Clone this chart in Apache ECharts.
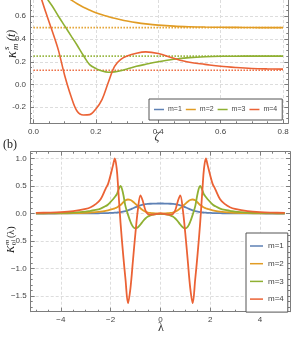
<!DOCTYPE html>
<html><head><meta charset="utf-8">
<script src="https://cdn.jsdelivr.net/npm/echarts@6/dist/echarts.min.js"></script>
<style>html,body{margin:0;padding:0;background:#fff}#c{width:299px;height:339px}</style>
</head><body><div id="c"></div>
<script>
const seriesNames = ['m=1','m=2','m=3','m=4'];
const colors = ['#5E81B5','#E19C24','#8FB032','#EB6235'];

// ---- panel (a) ----
const zeta = [0,0.02,0.04,0.06,0.08,0.1,0.12,0.14,0.16,0.18,0.2,0.22,0.24,0.26,0.28,0.3,0.33,0.36,0.4,0.45,0.5,0.55,0.6,0.65,0.7,0.75,0.8];
const kA_m1 = [1,1,1,1,1,1,1,1,1,1,1,1,1,1,1,1,1,1,1,1,1,1,1,1,1,1,1];
const kA_m2 = [1.0,0.94,0.89,0.85,0.81,0.78,0.745,0.71,0.68,0.655,0.632,0.613,0.597,0.582,0.569,0.558,0.544,0.533,0.522,0.513,0.508,0.505,0.503,0.502,0.501,0.5,0.5];
const kA_m3 = [0.96,0.87,0.77,0.69,0.6,0.515,0.43,0.345,0.255,0.175,0.14,0.118,0.108,0.111,0.122,0.137,0.16,0.178,0.2,0.222,0.236,0.244,0.248,0.249,0.25,0.25,0.25];
const kA_m4 = [0.97,0.8,0.63,0.47,0.3,0.08,-0.1,-0.235,-0.268,-0.265,-0.215,-0.13,0.02,0.16,0.22,0.25,0.275,0.287,0.272,0.23,0.195,0.177,0.16,0.149,0.141,0.137,0.135];
const limitsA = [1, 0.5, 0.25, 0.125];
const limitRange = [0, 0.8];
const zetaTicks = [0,0.2,0.4,0.6,0.8];
const zetaMinor = [0.05,0.1,0.15,0.25,0.3,0.35,0.45,0.5,0.55,0.65,0.7,0.75];
const kATicks = [-0.2,0,0.2,0.4,0.6];
const kAMinor = [-0.3,-0.25,-0.15,-0.1,-0.05,0.05,0.1,0.15,0.25,0.3,0.35,0.45,0.5,0.55,0.65,0.7,0.75];

// ---- panel (b) ----
const lambda = [-5,-4.5,-4,-3.5,-3,-2.8,-2.6,-2.4,-2.2,-2.1,-2,-1.9,-1.83,-1.75,-1.7,-1.6,-1.5,-1.4,-1.3,-1.2,-1.1,-1,-0.9,-0.8,-0.7,-0.6,-0.5,-0.4,-0.3,-0.2,-0.1,0,0.1,0.2,0.3,0.4,0.5,0.6,0.7,0.8,0.9,1,1.1,1.2,1.3,1.4,1.5,1.6,1.7,1.75,1.83,1.9,2,2.1,2.2,2.4,2.6,2.8,3,3.5,4,4.5,5];
const kB_m1 = [0,0,0.001,0.001,0.002,0.003,0.004,0.006,0.008,0.009,0.011,0.013,0.015,0.018,0.02,0.026,0.034,0.045,0.058,0.075,0.095,0.115,0.135,0.15,0.16,0.17,0.175,0.178,0.18,0.181,0.182,
  0.182,
  0.182,0.181,0.18,0.178,0.175,0.17,0.16,0.15,0.135,0.115,0.095,0.075,0.058,0.045,0.034,0.026,0.02,0.018,0.015,0.013,0.011,0.009,0.008,0.006,0.004,0.003,0.002,0.001,0.001,0,0];
const kB_m2 = [0.002,0.003,0.004,0.007,0.013,0.018,0.024,0.033,0.048,0.058,0.07,0.085,0.095,0.11,0.125,0.155,0.2,0.24,0.255,0.245,0.215,0.175,0.135,0.095,0.06,0.035,0.018,0.01,0.005,0.002,0.0005,
  0,
  0.0005,0.002,0.005,0.01,0.018,0.035,0.06,0.095,0.135,0.175,0.215,0.245,0.255,0.24,0.2,0.155,0.125,0.11,0.095,0.085,0.07,0.058,0.048,0.033,0.024,0.018,0.013,0.007,0.004,0.003,0.002];
const kB_m3 = [0.004,0.006,0.01,0.018,0.035,0.05,0.065,0.09,0.135,0.165,0.21,0.26,0.3,0.35,0.41,0.5,0.37,0.13,-0.02,-0.15,-0.24,-0.27,-0.25,-0.2,-0.14,-0.09,-0.055,-0.035,-0.02,-0.015,-0.01,
  -0.01,
  -0.01,-0.015,-0.02,-0.035,-0.055,-0.09,-0.14,-0.2,-0.25,-0.27,-0.24,-0.15,-0.02,0.13,0.37,0.5,0.41,0.35,0.3,0.26,0.21,0.165,0.135,0.09,0.065,0.05,0.035,0.018,0.01,0.006,0.004];
const kB_m4 = [0.011,0.016,0.025,0.045,0.085,0.115,0.17,0.26,0.45,0.54,0.7,0.88,1.0,0.8,0.5,-0.17,-0.72,-1.2,-1.63,-1.35,-0.85,-0.35,0.08,0.33,0.22,0.06,-0.01,-0.02,-0.02,-0.01,-0.005,
  0,
  -0.005,-0.01,-0.02,-0.02,-0.01,0.06,0.22,0.33,0.08,-0.35,-0.85,-1.35,-1.63,-1.2,-0.72,-0.17,0.5,0.8,1.0,0.88,0.7,0.54,0.45,0.26,0.17,0.115,0.085,0.045,0.025,0.016,0.011];
const lambdaTicks = [-4,-2,0,2,4];
const lambdaMinor = [-5,-4.5,-3.5,-3,-2.5,-1.5,-1,-0.5,0.5,1,1.5,2.5,3,3.5,4.5,5];
const kBTicks = [-1.5,-1,-0.5,0,0.5,1];
const kBMinor = [-1.7,-1.6,-1.4,-1.3,-1.2,-1.1,-0.9,-0.8,-0.7,-0.6,-0.4,-0.3,-0.2,-0.1,0.1,0.2,0.3,0.4,0.6,0.7,0.8,0.9,1.1];

const seriesA = [kA_m1, kA_m2, kA_m3, kA_m4];
const seriesB = [kB_m1, kB_m2, kB_m3, kB_m4];

const AX = '#7d7d7d';
const LABEL_FONT = 'Liberation Sans';
function axisSet(gridIndex, pos, min, max, majors, minors, labels, fmt, split) {
  const base = {type:'value', gridIndex, position:pos, min, max, scale:false};
  const main = Object.assign({}, base, {
    axisLine:{show:true, onZero:false, lineStyle:{color:AX, width:1}},
    axisTick:{show:true, inside:true, length:4, customValues:majors, lineStyle:{color:AX}},
    axisLabel:{show:labels, customValues:majors, formatter:fmt, fontSize:8, color:'#444', margin:4, fontFamily:LABEL_FONT},
    splitLine:{show:split, lineStyle:{color:'#dddddd', type:[3,2], width:1}},
    minorTick:{show:false}
  });
  const minor = Object.assign({}, base, {
    axisLine:{show:false, onZero:false},
    axisTick:{show:true, inside:true, length:2, customValues:minors, lineStyle:{color:AX}},
    axisLabel:{show:false}, splitLine:{show:false}
  });
  return [main, minor];
}
const fmtA = v => v.toFixed(1);
const fmtBy = v => (v < 0 ? '\u2212' : '') + Math.abs(v).toFixed(1);
const fmtBx = v => (v < 0 ? '\u2212' : '') + Math.abs(v).toFixed(0);

const xA = [-0.0112, 0.8169], yA = [-0.341, 0.787];
const xB = [-5.21, 5.21], yB = [-1.785, 1.124];

const xAxis = [].concat(
  axisSet(0,'bottom',xA[0],xA[1],zetaTicks,zetaMinor,true,fmtA,true),
  axisSet(0,'top',xA[0],xA[1],zetaTicks,zetaMinor,false,fmtA,false),
  axisSet(1,'bottom',xB[0],xB[1],lambdaTicks,lambdaMinor,true,fmtBx,true),
  axisSet(1,'top',xB[0],xB[1],lambdaTicks,lambdaMinor,false,fmtBx,false)
);
const yAxis = [].concat(
  axisSet(0,'left',yA[0],yA[1],kATicks,kAMinor,true,fmtA,true),
  axisSet(0,'right',yA[0],yA[1],kATicks,kAMinor,false,fmtA,false),
  axisSet(1,'left',yB[0],yB[1],kBTicks,kBMinor,true,fmtBy,true),
  axisSet(1,'right',yB[0],yB[1],kBTicks,kBMinor,false,fmtBy,false)
);

const series = [];
limitsA.forEach((lim, i) => {
  series.push({
    type:'line', name:'limit ' + seriesNames[i], xAxisIndex:0, yAxisIndex:0,
    data: limitRange.map(z => [z, lim]), symbol:'none', silent:true,
    lineStyle:{color:colors[i], width:1.6, type:[1.4,1.6]}, z:2, clip:true
  });
});
seriesA.forEach((vals, i) => {
  series.push({
    type:'line', name:seriesNames[i], xAxisIndex:0, yAxisIndex:0,
    data: zeta.map((z, j) => [z, vals[j]]), symbol:'none', showSymbol:false, smooth:0.35,
    lineStyle:{color:colors[i], width:1.6}, itemStyle:{color:colors[i]}, z:3, clip:true
  });
});
seriesB.forEach((vals, i) => {
  series.push({
    type:'line', name:seriesNames[i], xAxisIndex:4, yAxisIndex:4,
    data: lambda.map((l, j) => [l, vals[j]]), symbol:'none', showSymbol:false, smooth:0.35,
    lineStyle:{color:colors[i], width:1.8}, itemStyle:{color:colors[i]}, z:3, clip:true
  });
});

const serif = '"Liberation Serif"';
const option = {
  animation:false,
  backgroundColor:'#fff',
  grid:[
    {left:30, right:10.7, top:-5, bottom:215.7, outerBoundsMode:'none', containLabel:false},
    {left:30.7, right:9, top:151.7, bottom:27.3, outerBoundsMode:'none', containLabel:false}
  ],
  xAxis, yAxis, series,
  legend:[
    {data:seriesNames, orient:'horizontal', left:149, top:99, icon:'rect', itemWidth:10, itemHeight:1.5, itemGap:4,
     padding:[7,5,7,5], borderColor:'#555', borderWidth:1, backgroundColor:'#fff', selectedMode:false,
     textStyle:{fontSize:7, color:'#444', fontFamily:LABEL_FONT, padding:[0,0,0,-1]}},
    {data:seriesNames, orient:'vertical', left:246, top:233, icon:'rect', itemWidth:13, itemHeight:1.5, itemGap:7.7,
     padding:[8,4,8,4], borderColor:'#555', borderWidth:1, backgroundColor:'#fff', selectedMode:false,
     textStyle:{fontSize:8, color:'#444', fontFamily:LABEL_FONT, lineHeight:10}}
  ],
  graphic:[
    {type:'text', x:3, y:139, style:{text:'(b)', font:'12px '+serif, fill:'#222'}},
    {type:'text', x:157, y:137, style:{text:'\u03B6', font:'italic 12px '+serif, fill:'#333', align:'center', verticalAlign:'middle'}},
    {type:'text', x:161, y:328, style:{text:'\u03BB', font:'12px '+serif, fill:'#333', align:'center', verticalAlign:'middle'}},
    {type:'group', x:12, y:41, rotation:Math.PI/2, children:[
      {type:'text', x:-17, y:0, style:{text:'\u03BA', font:'italic 14px '+serif, fill:'#222', verticalAlign:'middle'}},
      {type:'text', x:-9, y:-5, style:{text:'s', font:'italic 9px '+serif, fill:'#222', verticalAlign:'middle'}},
      {type:'text', x:-9, y:4, style:{text:'m', font:'italic 9px '+serif, fill:'#222', verticalAlign:'middle'}},
      {type:'text', x:0, y:0, style:{text:'(t)', font:'italic 12px '+serif, fill:'#222', verticalAlign:'middle'}}
    ]},
    {type:'group', x:11, y:238, rotation:Math.PI/2, children:[
      {type:'text', x:-15, y:0, style:{text:'K', font:'italic 11px '+serif, fill:'#222', verticalAlign:'middle'}},
      {type:'text', x:-7, y:-4, style:{text:'m', font:'italic 7px '+serif, fill:'#222', verticalAlign:'middle'}},
      {type:'text', x:-7, y:3, style:{text:'0', font:'7px '+serif, fill:'#222', verticalAlign:'middle'}},
      {type:'text', x:0, y:0, style:{text:'(\u03BB)', font:'10px '+serif, fill:'#222', verticalAlign:'middle'}}
    ]}
  ]
};
const chart = echarts.init(document.getElementById('c'), null, {renderer:'canvas'});
chart.setOption(option);
</script>
</body></html>
